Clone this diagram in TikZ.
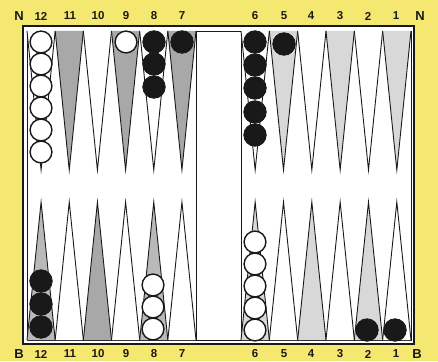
\documentclass[tikz,border=0pt]{standalone}
\usepackage{fontspec}
\setmainfont{Liberation Sans}
\definecolor{bgyellow}{RGB}{245,232,112}
\definecolor{gdark}{RGB}{168,168,168}
\definecolor{gmid}{RGB}{185,185,185}
\definecolor{glight}{RGB}{216,216,216}
\definecolor{inkc}{RGB}{25,25,25}
\tikzset{
  pt/.style={draw=inkc, line width=0.9pt, line join=miter},
  wchk/.style={circle, draw=inkc, fill=white, line width=1.4pt, minimum size=21.8pt, inner sep=0pt},
  bchk/.style={circle, draw=inkc, fill=inkc, line width=0.8pt, minimum size=22.5pt, inner sep=0pt},
  num/.style={font=\fontsize{11.5}{11.5}\selectfont\bfseries, text=inkc, inner sep=0pt},
  side/.style={font=\fontsize{13}{13}\selectfont\bfseries, text=inkc, inner sep=0pt}
}
\begin{document}
\begin{tikzpicture}[x=1pt,y=-1pt]
\useasboundingbox (0,0) rectangle (438,361);
\fill[bgyellow] (0,0) rectangle (438,361);
% board
\draw[fill=white, draw=inkc, line width=2pt] (23,26) rectangle (414,344);
\draw[draw=inkc, line width=0.8pt] (27,31) rectangle (411,340);
\draw[draw=inkc, line width=0.8pt] (196,31) -- (196,340);
\draw[draw=inkc, line width=0.8pt] (241,31) -- (241,340);
% top-left points 12..7
\foreach \i/\c in {0/white,1/gdark,2/white,3/gdark,4/white,5/gdark}{
  \pgfmathsetmacro\xa{27+\i*28.17}
  \pgfmathsetmacro\xb{\xa+28.17}
  \pgfmathsetmacro\xm{\xa+14.085}
  \draw[pt, fill=\c] (\xa,31) -- (\xm,170) -- (\xb,31);
}
% top-right points 6..1
\foreach \i/\c in {0/white,1/glight,2/white,3/glight,4/white,5/glight}{
  \pgfmathsetmacro\xa{241+\i*28.33}
  \pgfmathsetmacro\xb{\xa+28.33}
  \pgfmathsetmacro\xm{\xa+14.165}
  \draw[pt, fill=\c] (\xa,31) -- (\xm,170) -- (\xb,31);
}
% bottom-left points 12..7
\foreach \i/\c in {0/gmid,1/white,2/gdark,3/white,4/gmid,5/white}{
  \pgfmathsetmacro\xa{27+\i*28.17}
  \pgfmathsetmacro\xb{\xa+28.17}
  \pgfmathsetmacro\xm{\xa+14.085}
  \draw[pt, fill=\c] (\xa,340) -- (\xm,202) -- (\xb,340);
}
% bottom-right points 6..1
\foreach \i/\c in {0/glight,1/white,2/glight,3/white,4/glight,5/white}{
  \pgfmathsetmacro\xa{241+\i*28.33}
  \pgfmathsetmacro\xb{\xa+28.33}
  \pgfmathsetmacro\xm{\xa+14.165}
  \draw[pt, fill=\c] (\xa,340) -- (\xm,202) -- (\xb,340);
}
% checkers top
\foreach \y [count=\k] in {42,64,86,108,130,152} \node[wchk] (tw12-\k) at (41,\y) {};
\node[wchk] (tw9) at (126,42) {};
\foreach \y [count=\k] in {42,64,87} \node[bchk] (tb8-\k) at (154,\y) {};
\node[bchk] (tb7) at (182,42) {};
\foreach \y [count=\k] in {42,65,88,112,135} \node[bchk] (tb6-\k) at (255,\y) {};
\node[bchk] (tb5) at (284,44) {};
% checkers bottom
\foreach \y [count=\k] in {281,304,327} \node[bchk] (bb12-\k) at (41,\y) {};
\foreach \y [count=\k] in {285,307,329} \node[wchk] (bw8-\k) at (153,\y) {};
\foreach \y [count=\k] in {242,264,286,308,330} \node[wchk] (bw6-\k) at (255,\y) {};
\node[bchk] (bb2) at (367,330) {};
\node[bchk] (bb1) at (395,330) {};
% labels
\node[side] (nl) at (19,16) {N};
\node[side] (nr) at (420,16) {N};
\node[side] (bl) at (19,354) {B};
\node[side] (br) at (417,354) {B};
\foreach \n/\x in {12/41,11/70,10/98,9/126,8/154,7/182,6/255,5/284,4/311,3/340,2/368,1/396}{
  \node[num] (t\n) at (\x,16) {\n};
  \node[num] (b\n) at (\x,354) {\n};
}
\end{tikzpicture}
\end{document}
